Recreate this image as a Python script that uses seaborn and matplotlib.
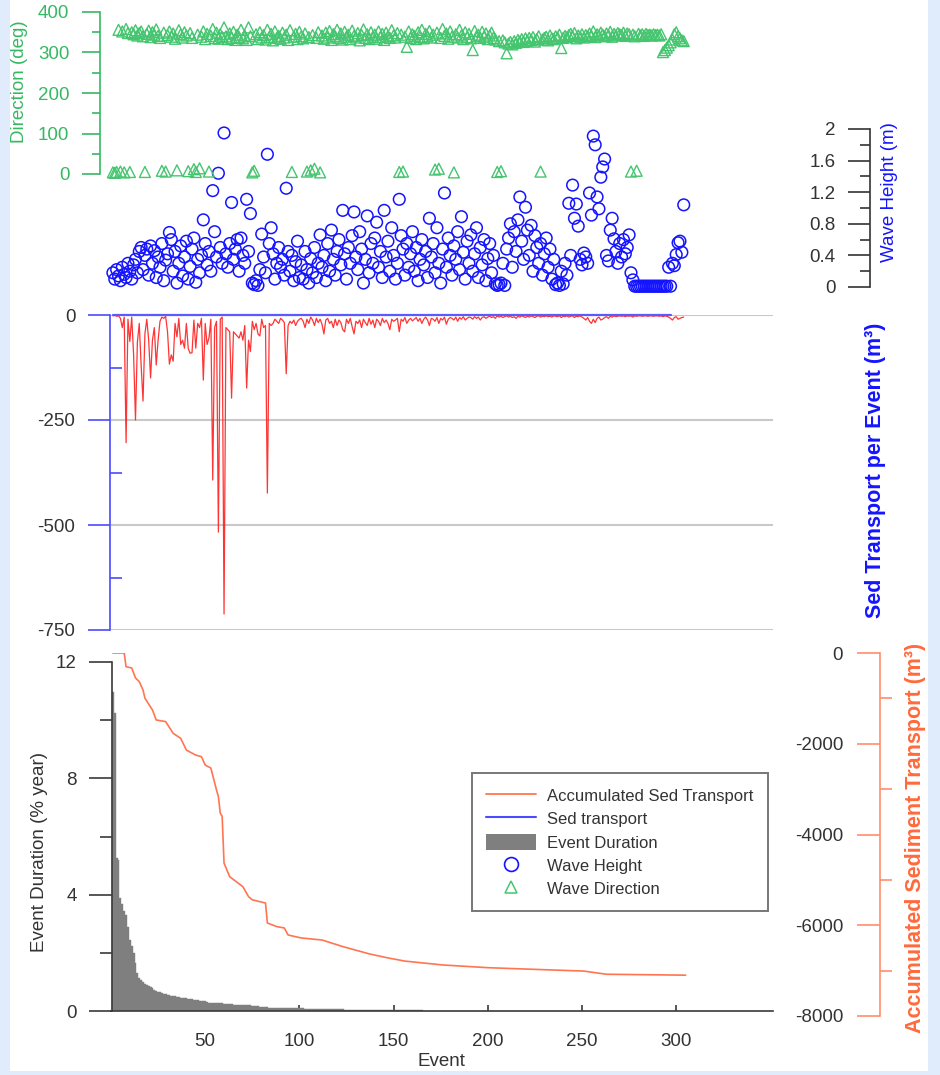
import numpy as np
import matplotlib
matplotlib.use("Agg")
import matplotlib.pyplot as plt
import seaborn as sns
from matplotlib.patches import Rectangle, Patch
from matplotlib.lines import Line2D

# ---------------- data ----------------
wave_height = [
    0.18, 0.10, 0.22, 0.14, 0.08, 0.25, 0.16, 0.12, 0.30, 0.20,
    0.10, 0.28, 0.35, 0.18, 0.45, 0.50, 0.22, 0.40, 0.48, 0.15,
    0.52, 0.30, 0.46, 0.12, 0.38, 0.25, 0.55, 0.08, 0.34, 0.42,
    0.69, 0.60, 0.20, 0.45, 0.05, 0.30, 0.52, 0.14, 0.38, 0.58,
    0.10, 0.26, 0.48, 0.62, 0.06, 0.35, 0.18, 0.40, 0.85, 0.55,
    0.28, 0.45, 0.20, 1.22, 0.70, 0.38, 1.44, 0.50, 0.30, 1.95,
    0.42, 0.25, 0.55, 1.07, 0.35, 0.48, 0.60, 0.20, 0.62, 0.40,
    0.30, 1.11, 0.45, 0.93, 0.05, 0.03, 0.08, 0.02, 0.22, 0.67,
    0.38, 0.18, 1.68, 0.55, 0.75, 0.42, 0.10, 0.30, 0.50, 0.25,
    0.35, 0.15, 1.25, 0.45, 0.20, 0.40, 0.08, 0.32, 0.58, 0.12,
    0.28, 0.10, 0.45, 0.22, 0.05, 0.36, 0.18, 0.50, 0.12, 0.30,
    0.66, 0.25, 0.40, 0.08, 0.55, 0.20, 0.72, 0.35, 0.15, 0.45,
    0.60, 0.28, 0.97, 0.42, 0.10, 0.50, 0.30, 0.65, 0.95, 0.38,
    0.22, 0.70, 0.48, 0.05, 0.35, 0.90, 0.18, 0.55, 0.30, 0.62,
    0.82, 0.25, 0.45, 0.12, 0.97, 0.38, 0.58, 0.20, 0.75, 0.40,
    0.10, 0.30, 1.11, 0.65, 0.48, 0.15, 0.55, 0.25, 0.42, 0.70,
    0.20, 0.50, 0.08, 0.35, 0.60, 0.28, 0.45, 0.12, 0.87, 0.38,
    0.55, 0.18, 0.75, 0.30, 0.05, 0.48, 1.19, 0.25, 0.62, 0.40,
    0.15, 0.52, 0.35, 0.70, 0.22, 0.89, 0.44, 0.10, 0.58, 0.30,
    0.66, 0.20, 0.42, 0.75, 0.12, 0.50, 0.28, 0.60, 0.08, 0.36,
    0.55, 0.18, 0.40, 0.04, 0.02, 0.03, 0.05, 0.30, 0.02, 0.48,
    0.62, 0.80, 0.25, 0.70, 0.45, 0.85, 1.14, 0.58, 0.35, 1.01,
    0.72, 0.40, 0.78, 0.20, 0.65, 0.50, 0.30, 0.55, 0.15, 0.42,
    0.62, 0.25, 0.48, 0.10, 0.35, 0.03, 0.05, 0.02, 0.20, 0.04,
    0.30, 0.15, 1.06, 0.40, 1.29, 0.87, 1.05, 0.77, 0.35, 0.28,
    0.43, 0.38, 0.30, 1.19, 0.91, 1.91, 1.80, 1.14, 0.99, 1.39,
    1.52, 1.62, 0.40, 0.33, 0.72, 0.87, 0.61, 0.45, 0.30, 0.55,
    0.38, 0.60, 0.42, 0.50, 0.66, 0.18, 0.09, 0.01, 0.01, 0.01,
    0.01, 0.01, 0.01, 0.01, 0.01, 0.01, 0.01, 0.01, 0.01, 0.01,
    0.01, 0.01, 0.01, 0.01, 0.01, 0.25, 0.01, 0.30, 0.27, 0.41,
    0.56, 0.58, 0.44, 1.04,
]

wave_direction = [
    4, 3, 5, 356, 6, 352, 4, 358, 348, 5,
    350, 345, 355, 342, 348, 352, 340, 5, 346, 354,
    338, 350, 344, 357, 341, 336, 8, 349, 6, 343,
    352, 339, 347, 334, 9, 355, 345, 337, 350, 342,
    7, 348, 336, 12, 5, 344, 14, 339, 352, 333,
    346, 6, 341, 358, 336, 349, 334, 345, 338, 362,
    340, 333, 347, 336, 351, 331, 344, 338, 356, 335,
    342, 331, 362, 340, 4, 8, 345, 333, 350, 337,
    343, 332, 356, 338, 346, 330, 352, 336, 341, 334,
    349, 337, 344, 331, 355, 5, 339, 346, 333, 351,
    340, 335, 347, 6, 338, 9, 343, 13, 336, 350,
    4, 342, 334, 349, 337, 353, 331, 345, 340, 356,
    336, 347, 332, 351, 339, 344, 333, 354, 341, 337,
    348, 330, 343, 357, 336, 345, 333, 350, 339, 344,
    334, 352, 338, 346, 331, 349, 340, 336, 355, 342,
    337, 348, 5, 344, 6, 339, 314, 352, 336, 345,
    341, 333, 350, 338, 356, 335, 346, 340, 353, 337,
    344, 11, 349, 13, 336, 358, 341, 347, 334, 352,
    339, 4, 345, 337, 356, 342, 333, 350, 338, 346,
    335, 306, 353, 340, 344, 336, 351, 339, 347, 333,
    342, 349, 336, 332, 5, 328, 7, 330, 325, 298,
    322, 326, 320, 328, 324, 331, 327, 333, 326, 335,
    329, 336, 331, 338, 327, 333, 340, 6, 332, 336,
    339, 330, 342, 335, 333, 340, 337, 344, 311, 336,
    341, 338, 343, 346, 340, 348, 335, 342, 339, 345,
    337, 343, 340, 347, 341, 352, 338, 345, 342, 349,
    344, 340, 347, 343, 351, 339, 346, 342, 348, 345,
    343, 349, 341, 347, 345, 6, 344, 340, 8, 346,
    342, 345, 341, 346, 343, 344, 342, 345, 343, 344,
    342, 345, 301, 306, 312, 318, 325, 332, 345, 350,
    340, 335, 330, 328,
]

sed_transport = [
    -2, -1, -3, -2, -8, -30, -5, -304, -10, -63,
    -5, -95, -250, -65, -20, -120, -205, -45, -10, -60,
    -150, -60, -30, -119, -60, -15, -5, -8, -3, -40,
    -117, -95, -110, -20, -52, -8, -70, -60, -79, -20,
    -80, -91, -90, -12, -79, -20, -30, -8, -155, -20,
    -70, -55, -10, -393, -30, -15, -517, -10, -5, -712,
    -30, -35, -40, -198, -40, -45, -50, -55, -40, -60,
    -25, -174, -60, -87, -15, -35, -20, -45, -50, -10,
    -30, -25, -424, -20, -25, -20, -10, -15, -20, -8,
    -12, -18, -140, -25, -15, -20, -12, -25, -15, -10,
    -8, -15, -30, -10, -20, -5, -12, -25, -8, -18,
    -10, -22, -45, -12, -8, -20, -15, -30, -10, -25,
    -12, -18, -35, -40, -10, -20, -8, -28, -45, -15,
    -20, -12, -30, -10, -18, -25, -8, -22, -12, -30,
    -10, -15, -25, -8, -18, -12, -20, -35, -10, -15,
    -12, -8, -40, -10, -15, -6, -20, -12, -8, -14,
    -10, -6, -15, -8, -20, -10, -5, -12, -25, -8,
    -10, -15, -6, -20, -8, -12, -5, -22, -10, -6,
    -8, -12, -5, -15, -6, -10, -4, -12, -8, -5,
    -6, -10, -4, -8, -5, -12, -6, -4, -8, -5,
    -3, -6, -4, -8, -2, -5, -3, -6, -4, -2,
    -5, -3, -6, -4, -8, -3, -5, -2, -4, -6,
    -3, -5, -2, -4, -6, -3, -2, -5, -3, -4,
    -2, -4, -3, -5, -2, -3, -4, -2, -6, -3,
    -4, -2, -5, -3, -2, -6, -3, -4, -2, -5,
    -8, -12, -6, -15, -20, -10, -18, -8, -5, -12,
    -10, -6, -4, -8, -3, -5, -2, -4, -3, -2,
    -3, -2, -4, -2, -3, -2, -5, -2, -3, -2,
    -2, -3, -2, -2, -3, -2, -2, -3, -2, -2,
    -3, -2, -4, -2, -3, -5, -8, -12, -6, -4,
    -10, -8, -6, -5,
]

sed_positive_event = [1, 297]
sed_positive_value = [0, 0]

event_duration = [
    10.97, 10.25, 5.26, 5.20, 3.88, 3.68, 3.45, 3.30, 2.90, 2.44,
    2.24, 2.00, 1.66, 1.31, 1.14, 1.05, 1.00, 0.93, 0.90, 0.86,
    0.82, 0.78, 0.73, 0.69, 0.66, 0.64, 0.62, 0.59, 0.57, 0.56,
    0.54, 0.53, 0.52, 0.50, 0.49, 0.47, 0.46, 0.45, 0.44, 0.43,
    0.42, 0.41, 0.40, 0.39, 0.38, 0.37, 0.36, 0.36, 0.35, 0.34,
    0.30, 0.29, 0.29, 0.28, 0.28, 0.27, 0.27, 0.26, 0.26, 0.25,
    0.24, 0.24, 0.23, 0.23, 0.22, 0.22, 0.22, 0.21, 0.21, 0.20,
    0.20, 0.20, 0.19, 0.19, 0.18, 0.18, 0.17, 0.16, 0.15, 0.14,
    0.14, 0.13, 0.13, 0.12, 0.12, 0.12, 0.11, 0.11, 0.11, 0.11,
    0.10, 0.10, 0.10, 0.10, 0.10, 0.10, 0.10, 0.10, 0.09, 0.09,
    0.09, 0.09, 0.08, 0.08, 0.08, 0.08, 0.08, 0.08, 0.07, 0.07,
    0.07, 0.07, 0.07, 0.07, 0.07, 0.06, 0.06, 0.06, 0.06, 0.06,
    0.06, 0.06, 0.06, 0.05, 0.05, 0.05, 0.05, 0.05, 0.05, 0.05,
    0.05, 0.05, 0.05, 0.05, 0.04, 0.04, 0.04, 0.04, 0.04, 0.04,
    0.04, 0.04, 0.04, 0.04, 0.04, 0.04, 0.03, 0.03, 0.03, 0.03,
    0.03, 0.03, 0.03, 0.03, 0.03, 0.03, 0.03, 0.03, 0.03, 0.03,
    0.03, 0.03, 0.02, 0.02, 0.02,
]

accum_event = [1, 7, 8, 11, 13, 15, 17, 18, 22, 24, 29, 33, 37, 40, 45, 48,
               50, 53, 56, 57, 58, 59, 60, 63, 70, 73, 75, 82, 83, 88, 92,
               94, 101, 112, 123, 137, 147, 156, 176, 200, 220, 251, 263, 305]
accum_value = [0, 0, -302, -330, -550, -632, -815, -995, -1256, -1476, -1512,
               -1770, -1880, -2140, -2250, -2285, -2470, -2535, -3020, -3165,
               -3530, -3600, -4630, -4930, -5150, -5370, -5440, -5510, -5950,
               -6030, -6060, -6215, -6280, -6325, -6470, -6630, -6720, -6790,
               -6875, -6935, -6965, -7010, -7080, -7100]

x_ticks = [50, 100, 150, 200, 250, 300]
dir_ticks = [0, 100, 200, 300, 400]
dir_minor = [50, 150, 250, 350]
wh_ticks = [0, 0.4, 0.8, 1.2, 1.6, 2.0]
wh_tick_labels = ["0", "0.4", "0.8", "1.2", "1.6", "2"]
wh_minor = [0.2, 0.6, 1.0, 1.4, 1.8]
sed_ticks = [-750, -500, -250, 0]
sed_minor = [-625, -375, -125]
dur_ticks = [0, 4, 8, 12]
dur_minor = [2, 6, 10]
acc_ticks = [-8000, -6000, -4000, -2000, 0]
acc_minor = [-7000, -5000, -3000, -1000]

events = np.arange(1, len(wave_height) + 1)
dur_events = np.arange(1, len(event_duration) + 1)

# ---------------- style ----------------
sns.set_theme(style="ticks")
plt.rcParams["font.family"] = ["Liberation Sans", "DejaVu Sans"]
plt.rcParams["axes.unicode_minus"] = False

GREEN = "#36b862"
GREEN_M = "#45c56f"
BLUE = "#1414ff"
BLUE_AX = "#4a4aff"
RED = "#ff1e1e"
ORANGE = "#ff7550"
ORANGE_AX = "#ff8c6c"
ORANGE_TXT = "#ff6a3c"
DARK = "#333333"
GRID = "#c9c9c9"
TS = 13.5  # tick label size

W, H = 940, 1075
fig = plt.figure(figsize=(W / 100, H / 100), dpi=100)
fig.patch.set_facecolor("#e0ecfb")
fig.add_artist(Rectangle((10 / W, 1 - 1071 / H), 918 / W, 1071 / H,
                         transform=fig.transFigure, facecolor="white",
                         edgecolor="none", zorder=-5))

XL, XR = 111.0, 773.4
XMAX = (XR - XL) / 1.884
AXW = XR - XL


def px_axes(y0, y1):
    a = fig.add_axes([XL / W, 1 - y1 / H, AXW / W, (y1 - y0) / H])
    a.set_facecolor("none")
    for s in ["top", "right", "bottom", "left"]:
        a.spines[s].set_visible(False)
    a.set_xlim(0, XMAX)
    a.set_xticks([])
    return a


def left_spine(a, xpix, color):
    a.spines["left"].set_visible(True)
    a.spines["left"].set_position(("axes", (xpix - XL) / AXW))
    a.spines["left"].set_color(color)
    a.spines["left"].set_linewidth(1.2)


# ---------------- bottom panel: event duration + accumulated ----------------
ax_dur = px_axes(662, 1011)
ax_acc = px_axes(653, 1016)

sns.histplot(x=dur_events, weights=event_duration, discrete=True, shrink=1.0,
             color="#7f7f7f", alpha=1.0, edgecolor="#7f7f7f", linewidth=0.3,
             ax=ax_dur)
ax_dur.set_xlim(0, XMAX)
ax_dur.set_ylim(0, 12)
ax_dur.set_ylabel("")
ax_dur.set_xlabel("")
left_spine(ax_dur, 112, "#3a3a3a")
ax_dur.spines["bottom"].set_visible(True)
ax_dur.spines["bottom"].set_color("#3a3a3a")
ax_dur.spines["bottom"].set_linewidth(1.2)
ax_dur.set_xticks(x_ticks)
ax_dur.set_xticklabels([str(t) for t in x_ticks])
ax_dur.tick_params(axis="x", direction="in", length=4, width=1.2,
                   color="#3a3a3a", labelsize=TS, labelcolor=DARK, pad=16,
                   bottom=True)
ax_dur.set_yticks(dur_ticks)
ax_dur.set_yticks(dur_minor, minor=True)
ax_dur.tick_params(axis="y", which="major", direction="out", length=16.5,
                   width=1.2, color="#3a3a3a", labelsize=TS, labelcolor=DARK,
                   pad=9, left=True)
ax_dur.tick_params(axis="y", which="minor", direction="out", length=8.5,
                   width=1.2, color="#3a3a3a", left=True)

sns.lineplot(x=accum_event, y=accum_value, color=ORANGE, linewidth=1.2,
             ax=ax_acc)
ax_acc.set_xlim(0, XMAX)
ax_acc.set_ylim(-8000, 0)
ax_acc.set_xlabel("")
ax_acc.set_ylabel("")
ax_acc.set_xticks([])
left_spine(ax_acc, 880, ORANGE_AX)
ax_acc.set_yticks(acc_ticks)
ax_acc.set_yticklabels([str(t) for t in acc_ticks])
ax_acc.set_yticks(acc_minor, minor=True)
ax_acc.tick_params(axis="y", which="major", direction="out", length=16.5,
                   width=1.2, color=ORANGE_AX, labelsize=TS, labelcolor=DARK,
                   pad=10, left=True)
ax_acc.tick_params(axis="y", which="minor", direction="in", length=8.5,
                   width=1.2, color=ORANGE_AX, left=True)

# ---------------- middle panel: sediment transport per event ----------------
ax_sed = px_axes(315, 630)
ax_sed.set_ylim(-750, 0)
ax_sed.set_yticks(sed_ticks)
ax_sed.set_yticks(sed_minor, minor=True)
ax_sed.yaxis.grid(True, which="major", color=GRID, linewidth=1.5)
ax_sed.set_axisbelow(True)
sns.lineplot(x=events, y=sed_transport, color=RED, linewidth=0.9,
             alpha=0.9, ax=ax_sed)
sns.lineplot(x=sed_positive_event, y=sed_positive_value, color="#5a5aff",
             linewidth=1.6, ax=ax_sed, zorder=4, clip_on=False)
ax_sed.set_xlim(0, XMAX)
ax_sed.set_xlabel("")
ax_sed.set_ylabel("")
ax_sed.set_xticks([])
left_spine(ax_sed, 110, BLUE_AX)
ax_sed.tick_params(axis="y", which="major", direction="out", length=16,
                   width=1.2, color=BLUE_AX, labelsize=TS, labelcolor=DARK,
                   pad=9, left=True)
ax_sed.tick_params(axis="y", which="minor", direction="in", length=8.5,
                   width=1.2, color=BLUE_AX, left=True)

# ---------------- top panel: wave height + direction ----------------
ax_wh = px_axes(129, 287)
ax_dir = px_axes(12, 174)

sns.scatterplot(x=events, y=wave_height, marker="o", s=70, color=BLUE,
                facecolor="none", edgecolor=BLUE, linewidth=1.1,
                clip_on=False, ax=ax_wh, zorder=3)
ax_wh.set_xlim(0, XMAX)
ax_wh.set_ylim(0, 2)
ax_wh.set_xlabel("")
ax_wh.set_ylabel("")
ax_wh.set_xticks([])
left_spine(ax_wh, 870, "#333333")
ax_wh.set_yticks(wh_ticks)
ax_wh.set_yticklabels(wh_tick_labels)
ax_wh.set_yticks(wh_minor, minor=True)
ax_wh.tick_params(axis="y", which="major", direction="out", length=16,
                  width=1.2, color="#333333", labelsize=TS, labelcolor=DARK,
                  pad=9, left=True)
ax_wh.tick_params(axis="y", which="minor", direction="out", length=7.5,
                  width=1.2, color="#333333", left=True)

sns.scatterplot(x=events, y=wave_direction, marker="^", s=62, color=GREEN_M,
                facecolor="none", edgecolor=GREEN_M, linewidth=1.0,
                clip_on=False, ax=ax_dir, zorder=3)
ax_dir.set_xlim(0, XMAX)
ax_dir.set_ylim(0, 400)
ax_dir.set_xlabel("")
ax_dir.set_ylabel("")
ax_dir.set_xticks([])
left_spine(ax_dir, 100, GREEN)
ax_dir.set_yticks(dir_ticks)
ax_dir.set_yticks(dir_minor, minor=True)
ax_dir.tick_params(axis="y", which="major", direction="out", length=13,
                   width=1.2, color=GREEN, labelsize=TS, labelcolor=GREEN,
                   pad=9, left=True)
ax_dir.tick_params(axis="y", which="minor", direction="out", length=6,
                   width=1.2, color=GREEN, left=True)

# ---------------- axis titles ----------------
def ftext(xp, yp, s, **kw):
    fig.text(xp / W, 1 - yp / H, s, ha="center", va="center", **kw)


ftext(20, 82, "Direction (deg)", rotation=90, color=GREEN, fontsize=TS)
ftext(889, 192, "Wave Height (m)", rotation=90, color=BLUE, fontsize=TS)
ftext(876, 470, "Sed Transport per Event (m³)", rotation=90, color=BLUE,
      fontsize=15.5, fontweight="bold")
ftext(40, 852, "Event Duration (% year)", rotation=90, color=DARK,
      fontsize=TS)
ftext(441, 1061, "Event", color=DARK, fontsize=TS)
ftext(915, 838, "Accumulated Sediment Transport (m³)", rotation=90,
      color=ORANGE_TXT, fontsize=15.5, fontweight="bold")

# ---------------- legend ----------------
handles = [
    Line2D([], [], color=ORANGE, lw=1.3),
    Line2D([], [], color=BLUE_AX, lw=1.5),
    Patch(facecolor="#7f7f7f", edgecolor="none"),
    Line2D([], [], color=BLUE, marker="o", linestyle="none",
           markerfacecolor="none", markersize=10, markeredgewidth=1.2),
    Line2D([], [], color=GREEN_M, marker="^", linestyle="none",
           markerfacecolor="none", markersize=9, markeredgewidth=1.1),
]
labels = ["Accumulated Sed Transport", "Sed transport", "Event Duration",
          "Wave Height", "Wave Direction"]
leg = ax_acc.legend(handles, labels, loc="upper left",
                    bbox_to_anchor=(472 / W, 1 - 773 / H),
                    bbox_transform=fig.transFigure, fontsize=12,
                    frameon=True, fancybox=False, borderpad=0.85,
                    handlelength=3.0, handleheight=1.1, handletextpad=0.65,
                    labelspacing=0.4, borderaxespad=0)
leg.get_frame().set_edgecolor("#555555")
leg.get_frame().set_linewidth(1.4)
for t in leg.get_texts():
    t.set_color(DARK)

fig.savefig("out.png", dpi=100, facecolor=fig.get_facecolor())
